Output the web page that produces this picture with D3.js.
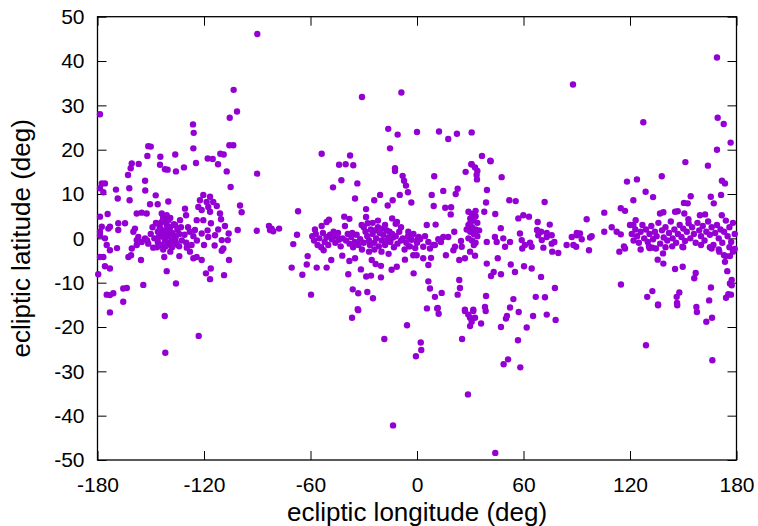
<!DOCTYPE html>
<html>
<head>
<meta charset="utf-8">
<script src="https://cdn.jsdelivr.net/npm/d3@7/dist/d3.min.js"></script>
<style>
  body { margin: 0; background: #fff; }
  svg { display: block; font-family: "Liberation Sans", Arial, sans-serif; }
</style>
</head>
<body>
<div id="chart"></div>
<script>
// ecliptic coordinates [longitude, latitude] in degrees

const westPoints = [
  [-90,46.1],[-103.3,33.5],[-101.4,28.6],[-105.5,27.2],[-178.6,28.0],[-126.2,25.7],[-125.8,23.8],[-126.0,20.3],
  [-105.7,21.0],[-103.5,21.0],[-151.4,20.8],[-150,20.7],[-151.9,18.6],[-144.6,18.4],[-136.2,18.9],[-160.7,16.9],
  [-156.8,16.8],[-144.8,16.6],[-124.5,17.0],[-117.9,18.0],[-115.1,17.9],[-110.8,19.1],[-108.9,18.9],[-112.1,16.7],
  [-161.3,15.8],[-162.8,14.3],[-142.0,15.6],[-140.5,15.5],[-135.8,15.1],[-131.3,16.0],[-107.2,15.1],[-90.1,14.6],
  [-105.0,11.6],[-177.6,12.4],[-175.8,12.4],[-178.6,11.3],[-176.7,10.4],[-169.6,11.0],[-162.1,11.3],[-153.2,13.0],
  [-153.1,10.8],[-168.6,9.0],[-161.9,8.6],[-147.2,9.7],[-150.4,7.7],[-146.1,7.7],[-140.1,8.3],
  [-120.4,9.8],[-116.6,9.4],[-122.3,8.6],[-118.5,8.2],[-114.8,8.2],[-123.2,7.1],[-117.6,7.1],[-112.8,7.3],
  [-121.3,6.4],[-116.6,6.0],[-111.0,5.6],[-110.4,4.3],[-99.7,7.4],[-98.8,5.9],[-130.7,6.7],[-130.1,5.2],
  [-174.3,5.5],[-178.6,4.9],[-178.6,1.5],[-157.9,5.6],[-155.1,5.8],[-152.3,5.6],[-143.8,5.6],[-141,5.2],
  [-142.9,4.5],[-124.1,4.1],[-120.4,4.1],[-116.1,3.4],[-108.2,2.8],[-101.0,1.9],[-90.3,1.7],[-106.1,1.1],
  [-106.6,-0.4],[-177.6,2.6],[-173.9,2.2],[-173.0,2.6],[-168.3,3.4],[-164.5,3.4],[-168.3,1.9],[-178.6,0.7],
  [-175.8,0],[-174.8,-1.5],[-173,-2.7],[-169.0,-2.2],[-178.6,-4.2],[-176.7,-4.2],[-160.7,-2.3],[-157.9,-1.5],
  [-162.6,-4.2],[-161.1,-3.8],[-155.5,-4.9],[-158.9,2.2],[-159.8,1.5],[-157.0,0.3],[-157.9,-0.4],[-153.2,0],
  [-155.1,-0.8],[-151.4,-1.2],[-148.6,-2.1],[-142.4,-4.2],[-133.9,-4.0],[-129.7,-2.1],[-127.9,-3.0],[-126.0,-4.5],
  [-124.1,-4.2],[-121.3,-4.9],[-125.1,1.9],[-121.3,1.1],[-117.6,0.3],[-113.8,0.7],[-110.0,-0.4],[-109.1,-2.3],
  [-110.0,-2.8],[-105.9,-4.9],[-116.2,-6.8],[-118.9,-7.9],[-116.6,-9.2],[-108.7,-8.3],[-141.0,-7.4],[-135.8,-10.2],
  [-154.2,-10.5],[-175.8,-6.3],[-173.0,-6.8],[-179.6,-8.1],[-165.5,-11.3],[-163.5,-11.2],[-174.8,-12.7],[-173.0,-12.8],
  [-171.1,-12.4],[-165.5,-14.3],
  [-147,3.5],[-145,2.8],[-143,3.9],[-141,3.0],[-139,2.5],[-137,3.2],[-135,2.0],[-146,1.5],[-144,0.8],[-142,1.8],
  [-140,0.5],[-138,1.2],[-136,0.2],[-134,1.0],[-148,0.0],[-146,-0.8],[-144,-1.5],[-142,-0.5],[-140,-1.2],[-138,-2.0],
  [-136,-0.8],[-134,-1.8],[-143,-2.5],[-139,-3.0],[-145,2.0],[-141,1.2],[-137,-0.3],[-133,2.5],[-131,0.8],[-130,-1.0],
  [-128,1.5],[-126,0.5],[-124,-0.5],[-127,-1.5],[-129,2.5],[-143,5.0],[-139,4.6],[-150,1.0],[-152,-0.5],[-149,2.5],
  [-147.0,3.4],[-143.8,3.7],[-140.1,4.1],[-136.3,3.0],[-133.5,4.1],
  [-144.5,2.2],[-142.5,0.2],[-140.5,2.0],[-138.5,-0.6],[-141.5,-1.8],[-145.5,0.3],[-139.5,1.6],[-137.5,0.9],
  [-135.5,-1.4],[-143.5,1.4],[-146.5,-2.0],[-132.5,-0.5],[-120,-1.5],[-118,1.8],[-114,-1.6],[-112,2.0],
  [-173.0,-16.7],[-142.1,-17.5],[-123.0,-22.0],[-141.8,-25.8]
]

const centralPoints = [
  [-31.0,31.9],[-8.8,32.9],[-16.2,24.7],[-10.9,23.4],[0,24.0],[-15.2,20.3],[-53.7,19.1],[-37.7,18.7],
  [-43.9,16.6],[-40.2,16.7],[-35.9,16.5],[12.4,24.1],[17.6,22.4],[22.5,23.6],[30.8,23.9],[36.6,18.6],
  [41.3,17.5],[30.6,16.7],
  [-42.6,13.1],[-47.3,11.5],[-33.6,12.4],[-12.4,15.8],[-12.4,15.2],[-8.1,14.1],[-7.3,13.0],[-6.2,11.9],
  [-5.1,10.4],[-3.2,8.1],[-9.7,9.8],[-13.7,8.6],[-16.5,7.4],[-20.8,9.8],[-24.1,8.6],[-34.9,9.0],
  [-28.7,6.6],[-28.7,4.8],[-67.0,6.1],[-41.0,4.9],[-38.1,4.4],[-49.6,4.2],[-50.9,3.7],[-53.7,2.8],
  [-11.3,3.7],[-40.6,2.8],[-31.2,3.0],[-27.8,3.4],[-83.4,2.8],[-81.9,2.2],[-77.7,2.2],[-82.8,1.9],
  [-81.0,1.6],[-67.6,0.8],[-69.7,-1.3],[-57.5,2.0],
  [-59,0.5],[-58,-0.5],[-57,1.0],[-56,-1.5],[-55,0.0],[-54,-2.0],[-53,1.2],[-52,-0.8],[-51,0.3],[-50,-1.5],
  [-49,0.8],[-48,-0.2],[-47,1.5],[-46,-1.0],[-45,0.5],[-44,-0.3],[-43,-1.8],[-42,0.0],
  [-40,-0.5],[-39,1.0],[-38,-1.2],[-37,0.3],[-36,-2.0],[-35,-0.8],[-34,0.8],[-33,-1.5],[-32,-0.2],[-31,-2.5],[-30,-1.0],
  [-29,1.5],[-28,0.5],[-27,-0.5],[-26,2.0],[-25,1.0],[-24,-1.0],[-23,0.0],[-22,2.5],[-21,1.2],[-20,-0.5],
  [-19,0.8],[-18,-1.5],[-17,1.8],[-16,0.2],[-15,-0.8],[-14,1.0],[-13,-2.0],[-12,0.5],[-11,-1.2],[-10,1.5],
  [-9,-0.5],[-8,0.0],[-7,-2.5],[-6,-1.0],[-5,0.5],[-4,-1.8],[-3,-0.3],[-2,1.0],[-1,-2.2],[0,-1.0],[1,0.3],
  [-25,3.5],[-22,4.0],[-18,3.0],[-14,4.5],[-12,3.3],[-9,2.5],[-20,-3.0],[-16,-3.5],[-24,-2.5],[-30,2.5],[-27,-3.0],
  [-26.5,-1.5],[-23.5,1.8],[-21.5,-1.8],[-19.5,2.2],[-17.5,-0.5],[-15.5,1.5],[-13.5,0.2],[-47.5,0.2],[-44.5,1.2],[-36.5,1.2],
  [-52.6,-2.7],[-48.3,-4.9],[-42.1,-3.9],[-38.1,-5.1],[-34.9,-4.5],[-31.6,-7.0],[-28.6,-8.6],[-25.9,-8.4],
  [-20.3,-8.8],[-23.3,-5.8],[-20.3,-6.2],[-25.5,-4.9],[-38.7,-8.1],[-56.5,-6.6],[-50.9,-6.6],[-62.1,-5.9],
  [-70.6,-6.6],[-64.6,-8.2],[-61.6,-4.0],[-14.3,-7.1],[-11.4,-6.4],[-6.8,-4.8],[-2.1,-3.8],[-1.9,-7.9],
  [-4.5,-1.8],[0.4,-0.2],[-4.9,1.5],[-4.5,0.2],
  [-36.2,-11.5],[-33.1,-12.4],[-28.0,-12.1],[-24.8,-13.5],[-59.7,-12.7],[-33.4,-16.0],
  [-33.1,-16.2],[-36.6,-17.9],[-5.6,-19.6],[-18.4,-22.7],[-13.5,-42.2]
]

const eastOfZeroPoints = [
  [87.9,34.7],[30.8,16.7],[32.7,16.0],[34.0,15.2],[27.4,15.0],[33.6,14.3],[33.8,13.3],[41.5,17.4],
  [9.7,14.0],[47.7,13.8],[8.3,9.8],[14.8,10.7],[21.8,10.0],[22.9,11.2],[39.4,10.9],[9.4,7.3],
  [15.9,6.9],[19.2,7.0],[19.0,5.4],[38.9,8.1],[37.9,6.0],[44.1,5.5],[52.0,8.6],[55.6,8.4],[71.9,8.2],
  [29,6.0],[31,5.5],[33,6.2],[30,4.5],[32,4.0],[34,3.5],[29,3.0],[31,2.5],[33,2.0],[30,1.5],
  [32,1.0],[34,0.5],[29,0.0],[31,-0.5],[33,-1.0],[35,1.8],[28,2.0],[30,3.5],[32,-1.5],[33,5.0],
  [5.5,3.0],[10.5,3.1],[47.2,2.3],[57.1,4.5],[59.9,5.2],[63.1,4.9],[68.0,3.7],[74.8,3.1],
  [67.6,1.9],[69.9,1.5],[73.1,1.2],[75.9,0.7],
  [1.7,-0.2],[4.5,0.5],[6.4,-0.8],[9.2,-1.5],[12.0,-0.2],[14.8,0.3],[17.6,0.3],[21.0,1.5],[3.5,-1.9],
  [7.3,-2.3],[10.1,-1.5],[13.5,-0.8],[16.3,-3.8],[24.8,-0.6],[25.2,-1.9],[21.4,-1.9],[20.5,-2.7],
  [7.9,-4.4],[3.5,-4.5],[6.4,-6.0],[-0.2,-3.8],
  [39.3,-0.8],[43.9,0.3],[44.9,-0.8],[48.6,0.0],[49.6,-1.9],[52.4,-0.8],[58.0,1.1],[59.0,-0.4],
  [60.8,-1.5],[59.3,-2.3],[63.7,-1.0],[64.6,-1.9],[68.3,0.7],[70.3,-0.4],[71.2,-2.1],[73.1,0.3],
  [75.9,-1.2],[77.4,-0.8],[76.2,-3.0],[79.6,-3.3],[84.3,-1.5],[88.1,-1.5],[90.0,0.7],[87.2,0.3],
  [23.8,-4.9],[27.0,-4.5],[29.9,-3.0],[32.7,-3.9],
  [39.3,-5.7],[45.5,-4.5],[52.8,-5.9],[55.2,-7.6],[60.3,-6.3],[64.6,-6.8],[69.9,-8.7],[77.7,-11.2],
  [43.2,-7.6],[41.7,-8.5],[47.3,-8.1],
  [6.4,-9.7],[7.3,-11.3],[10.1,-13.2],[13.9,-12.3],[22.9,-12.7],[23.8,-9.4],[24.2,-11.2],
  [38.9,-13.0],[54.3,-13.7],[66.9,-13.2],[72.1,-13.3],
  [5.6,-15.8],[11.7,-15.7],[27.0,-16.1],[31.7,-16.1],[38.3,-15.5],[52.4,-15.6],
  [11.4,-15.8],[12.2,-17.0],[27.0,-16.4],[28.9,-17.2],[31.7,-16.4],[29.9,-17.9],[32.7,-17.9],
  [30.8,-18.8],[29.9,-19.8],[36.1,-19.2],[38.7,-16.4],[25.4,-22.7],[2.1,-23.5],[2.4,-25.2],[-0.6,-26.6],
  [57.3,-16.6],[50.7,-17.5],[50.1,-18.1],[47.3,-20.0],[61.8,-20.1],[56.9,-23.0],[65.4,-17.5],
  [73.1,-17.2],[78.1,-18.4],[51.3,-27.3],[48.8,-28.4],[58.2,-29.1],[28.7,-35.2],[44.1,-48.4]
]

const eastPoints = [
  [169.0,40.8],[127.5,26.2],[169.4,27.2],[172.8,25.8],[176.7,21.6],[169.0,20.0],[151.2,17.2],[163.9,16.4],
  [118.3,12.8],[123.9,13.3],[137.9,14.0],[171.8,13.0],[173.5,12.4],[128.8,10.5],[133.0,9.3],[121.9,8.6],
  [154.2,9.5],[165.5,9.4],[171.3,9.8],[167.2,7.9],[150.4,8.0],[152.5,7.9],[105.5,5.8],[114.8,6.8],
  [117.2,6.2],[95.6,4.3],[136.9,5.6],[138.8,5.9],[145.4,6.0],[146.9,6.1],[150.6,5.6],[159.4,5.2],
  [162.3,5.4],[171.7,5.2],[152.9,4.3],[123.2,4.1],[121.9,3.0],
  [90.0,1.2],[91.8,1.1],[92.8,-0.2],[98.4,0.5],[97.5,0.2],[89.7,-1.9],[96.9,-2.7],[105.5,1.5],
  [109.7,2.5],[112.5,1.5],[114.8,0.9],
  [120,3.0],[121,1.0],[122,-0.5],[123,2.0],[124,0.5],[125,-1.0],[126,1.5],[127,3.0],[128,0.0],[129,2.0],
  [130,-0.8],[131,1.0],[132,2.8],[133,-0.2],[134,1.5],[135,0.5],[136,3.5],[137,-1.2],[138,1.8],[139,0.2],
  [140,2.5],[141,-0.5],[142,1.2],[143,3.8],[144,0.0],[145,2.0],[146,-1.0],[147,1.0],[148,3.0],[149,0.3],
  [150,2.2],[151,-0.6],[152,1.5],[153,3.4],[154,0.0],[155,2.5],[156,1.0],[157,-1.0],[158,3.5],[159,1.8],
  [160,0.5],[161,2.8],[162,-0.5],[163,1.5],[164,3.8],[165,0.8],[166,2.5],[167,-1.5],[168,1.2],[169,3.0],
  [170,0.0],[171,2.0],[172,-1.0],[173,1.5],[174,4.0],[175,0.5],[176,2.5],[177,-0.8],[178,3.5],[179,1.0],
  [176,-2.0],[170,-2.5],[165,-2.0],[160,-1.5],[150,-2.0],[140,-2.0],[131,-2.2],[126,-2.5],[174,-4.0],[178,-3.0],
  [114.0,-3.0],[116.6,-1.8],[117.2,-2.3],[130.7,-1.8],[132.6,-2.1],[134.6,-2.3],[143.8,-1.8],[149.5,-1.9],
  [138.6,-3.4],[135.6,-4.8],[138.8,-5.7],[145.4,-6.9],[149.7,-6.4],[157.0,-7.8],[156.2,-9.0],
  [166.0,-2.3],[170.3,-3.0],[173.0,-3.8],[173.5,-5.3],[176.3,-4.0],[179.0,-2.4],[174.8,-7.4],
  [177.3,-9.4],[177.3,-10.6],[176.3,-10.2],[175.4,-12.6],[165.6,-11.1],[164.6,-14.0],[114.9,-10.4],
  [129.7,-13.2],[132.6,-11.9],[135.8,-14.9],[146.3,-13.2],[147.8,-12.2],[146.5,-14.6],[174.1,-13.4],[176.9,-12.7],
  [135.8,-15.1],[146.6,-15.1],[157.4,-15.5],[157.7,-16.6],[163.0,-18.8],[166.2,-17.9],[129.0,-24.1],[166.4,-27.5]
]

const xTicks = [-180, -120, -60, 0, 60, 120, 180]
const yTicks = [-50, -40, -30, -20, -10, 0, 10, 20, 30, 40, 50]

const width = 758, height = 526
const margin = {top: 16.7, right: 21.5, bottom: 66, left: 97.5}
const pointColor = '#9400d3'

const svg = d3.select('#chart').append('svg')
    .attr('width', width)
    .attr('height', height)

const x = d3.scaleLinear()
    .domain([-180, 180])
    .range([margin.left, width - margin.right])

const y = d3.scaleLinear()
    .domain([-50, 50])
    .range([height - margin.bottom, margin.top])

const tickLen = 9

// bottom / left axes carry labels, top / right just mirror ticks (gnuplot style)
svg.append('g')
    .attr('class', 'axis')
    .attr('transform', `translate(0, ${y(-50)})`)
    .call(d3.axisBottom(x).tickValues(xTicks).tickSizeInner(-tickLen).tickSizeOuter(0)
        .tickPadding(tickLen + 8).tickFormat(d => String(d)))

svg.append('g')
    .attr('class', 'axis')
    .attr('transform', `translate(${x(-180)}, 0)`)
    .call(d3.axisLeft(y).tickValues(yTicks).tickSizeInner(-tickLen).tickSizeOuter(0)
        .tickPadding(tickLen + 4).tickFormat(d => String(d)))

svg.append('g')
    .attr('class', 'axis mirror')
    .attr('transform', `translate(0, ${y(50)})`)
    .call(d3.axisTop(x).tickValues(xTicks).tickSizeInner(-tickLen).tickSizeOuter(0).tickFormat(''))

svg.append('g')
    .attr('class', 'axis mirror')
    .attr('transform', `translate(${x(180)}, 0)`)
    .call(d3.axisRight(y).tickValues(yTicks).tickSizeInner(-tickLen).tickSizeOuter(0).tickFormat(''))

svg.selectAll('.axis .domain').remove()
svg.selectAll('.axis line').attr('stroke', '#000').attr('stroke-width', 1)
svg.selectAll('.axis text')
    .attr('fill', '#000')
    .style('font-size', '21px')
    .style('font-family', '"Liberation Sans", Arial, sans-serif')

// frame
svg.append('rect')
    .attr('x', x(-180))
    .attr('y', y(50))
    .attr('width', x(180) - x(-180))
    .attr('height', y(-50) - y(50))
    .attr('fill', 'none')
    .attr('stroke', '#000')
    .attr('stroke-width', 1.3)

const allPoints = westPoints.concat(centralPoints, eastOfZeroPoints, eastPoints)

svg.append('g')
    .selectAll('circle')
    .data(allPoints)
    .enter()
        .append('circle')
        .attr('cx', d => x(d[0]))
        .attr('cy', d => y(d[1]))
        .attr('r', 3.2)
        .attr('fill', pointColor)

svg.append('text')
    .attr('x', (x(-180) + x(180)) / 2)
    .attr('y', height - 5)
    .attr('text-anchor', 'middle')
    .style('font-size', '26px')
    .text('ecliptic longitude (deg)')

svg.append('text')
    .attr('transform', `translate(30, ${(y(50) + y(-50)) / 2})rotate(-90)`)
    .attr('text-anchor', 'middle')
    .style('font-size', '26px')
    .text('ecliptic latitude (deg)')
</script>
</body>
</html>
